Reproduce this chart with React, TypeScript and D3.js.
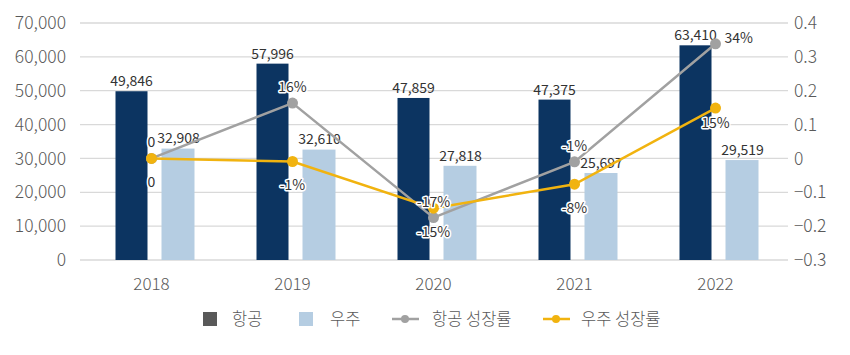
import React from "react";
import * as d3 from "d3";

const years = ["2018", "2019", "2020", "2021", "2022"];
const aviation = [49846, 57996, 47859, 47375, 63410];
const space = [32908, 32610, 27818, 25697, 29519];
const aviationGrowth = [0, 0.1635, -0.1748, -0.0101, 0.3385];
const spaceGrowth = [0, -0.0091, -0.1469, -0.0762, 0.1487];
const aviationGrowthLabels = ["0", "16%", "-17%", "-1%", "34%"];
const spaceGrowthLabels = ["0", "-1%", "-15%", "-8%", "15%"];
const leftTicks = [0, 10000, 20000, 30000, 40000, 50000, 60000, 70000];
const rightTicks = [-0.3, -0.2, -0.1, 0, 0.1, 0.2, 0.3, 0.4];

const W = 850, H = 355;
const FONT = "'Noto Sans CJK KR', 'Noto Sans', sans-serif";
const DARK = "#0c3461";
const LIGHT = "#b5cde2";
const GREY = "#a1a1a1";
const YELLOW = "#f1b30f";
const AXIS_TEXT = "#595959";

export default function App() {
  const x0 = 81, x1 = 786;
  const yTop = 23, yBot = 260;
  const x = d3.scaleBand().domain(years).range([x0, x1]);
  const y = d3.scaleLinear().domain([0, 70000]).range([yBot, yTop]);
  const y2 = d3.scaleLinear().domain([-0.3, 0.4]).range([yBot, yTop]);
  const cx = (yr: string) => (x(yr) as number) + x.bandwidth() / 2;

  const line = d3.line<number>().x((_, i) => cx(years[i])).y((v) => y2(v));
  const fmt = d3.format(",");

  const halo = { paintOrder: "stroke", stroke: "#fff", strokeWidth: 3, strokeLinejoin: "round" as const };

  return (
    <svg width={W} height={H} style={{ display: "block", position: "absolute", left: 0, top: 0 }} fontFamily={FONT}>
      <rect width={W} height={H} fill="#fff" />
      {leftTicks.map((t) => (
        <line key={t} x1={x0 - 1} x2={x1 + 2} y1={y(t)} y2={y(t)} stroke="#d9d9d9" strokeWidth={1.3} />
      ))}
      {leftTicks.map((t) => (
        <text key={"l" + t} x={66} y={y(t)} dy="0.35em" textAnchor="end" fontSize={17.5} fontWeight={300} fill={AXIS_TEXT}>
          {fmt(t)}
        </text>
      ))}
      {rightTicks.map((t) => (
        <text key={"r" + t} x={794} y={y2(t)} dy="0.35em" textAnchor="start" fontSize={17.5} fontWeight={300} fill={AXIS_TEXT}>
          {t === 0 ? "0" : d3.format(".1f")(t)}
        </text>
      ))}
      {years.map((yr) => (
        <text key={"x" + yr} x={cx(yr)} y={284} dy="0.35em" textAnchor="middle" fontSize={17} fontWeight={300} fill={AXIS_TEXT}>
          {yr}
        </text>
      ))}
      {years.map((yr, i) => {
        const c = cx(yr);
        return (
          <g key={"b" + yr}>
            <rect x={c - 36} width={32} y={y(aviation[i])} height={yBot - y(aviation[i])} fill={DARK} />
            <rect x={c + 10} width={33} y={y(space[i])} height={yBot - y(space[i])} fill={LIGHT} />
            <text x={c - 20} y={y(aviation[i]) - 10} dy="0.35em" textAnchor="middle" fontSize={14} fill="#333">
              {fmt(aviation[i])}
            </text>
            <text x={c + 27} y={y(space[i]) - 10} dy="0.35em" textAnchor="middle" fontSize={14} fill="#333">
              {fmt(space[i])}
            </text>
          </g>
        );
      })}
      <path d={line(aviationGrowth) || ""} fill="none" stroke={GREY} strokeWidth={2.5} />
      <path d={line(spaceGrowth) || ""} fill="none" stroke={YELLOW} strokeWidth={2.5} />
      {aviationGrowth.map((v, i) => (
        <circle key={"ga" + i} cx={cx(years[i])} cy={y2(v)} r={5.5} fill={GREY} />
      ))}
      {spaceGrowth.map((v, i) => (
        <circle key={"gs" + i} cx={cx(years[i])} cy={y2(v)} r={5.5} fill={YELLOW} />
      ))}
      {aviationGrowth.map((v, i) => {
        const last = i === years.length - 1;
        return (
          <text key={"la" + i} x={cx(years[i]) + (last ? 9 : 0)} y={y2(v) + (last ? -6 : -16)} dy="0.35em"
            textAnchor={last ? "start" : "middle"} fontSize={14} fill="#333" style={halo}>
            {aviationGrowthLabels[i]}
          </text>
        );
      })}
      {spaceGrowth.map((v, i) => {
        const last = i === years.length - 1;
        return (
          <text key={"ls" + i} x={cx(years[i])} y={y2(v) + (last ? 15 : 24)} dy="0.35em"
            textAnchor="middle" fontSize={14} fill="#333" style={halo}>
            {spaceGrowthLabels[i]}
          </text>
        );
      })}
      <g fontSize={16.5} fontWeight={300} fill={AXIS_TEXT}>
        <rect x={203} y={312} width={14} height={14} fill="#595959" />
        <text x={232} y={319} dy="0.35em">항공</text>
        <rect x={299} y={312} width={14} height={14} fill={LIGHT} />
        <text x={330} y={319} dy="0.35em">우주</text>
        <line x1={392} x2={419} y1={319} y2={319} stroke={GREY} strokeWidth={2.5} />
        <circle cx={405} cy={319} r={4} fill={GREY} />
        <text x={432} y={319} dy="0.35em">항공 성장률</text>
        <line x1={543} x2={570} y1={319} y2={319} stroke={YELLOW} strokeWidth={2.5} />
        <circle cx={556} cy={319} r={4} fill={YELLOW} />
        <text x={581} y={319} dy="0.35em">우주 성장률</text>
      </g>
    </svg>
  );
}
